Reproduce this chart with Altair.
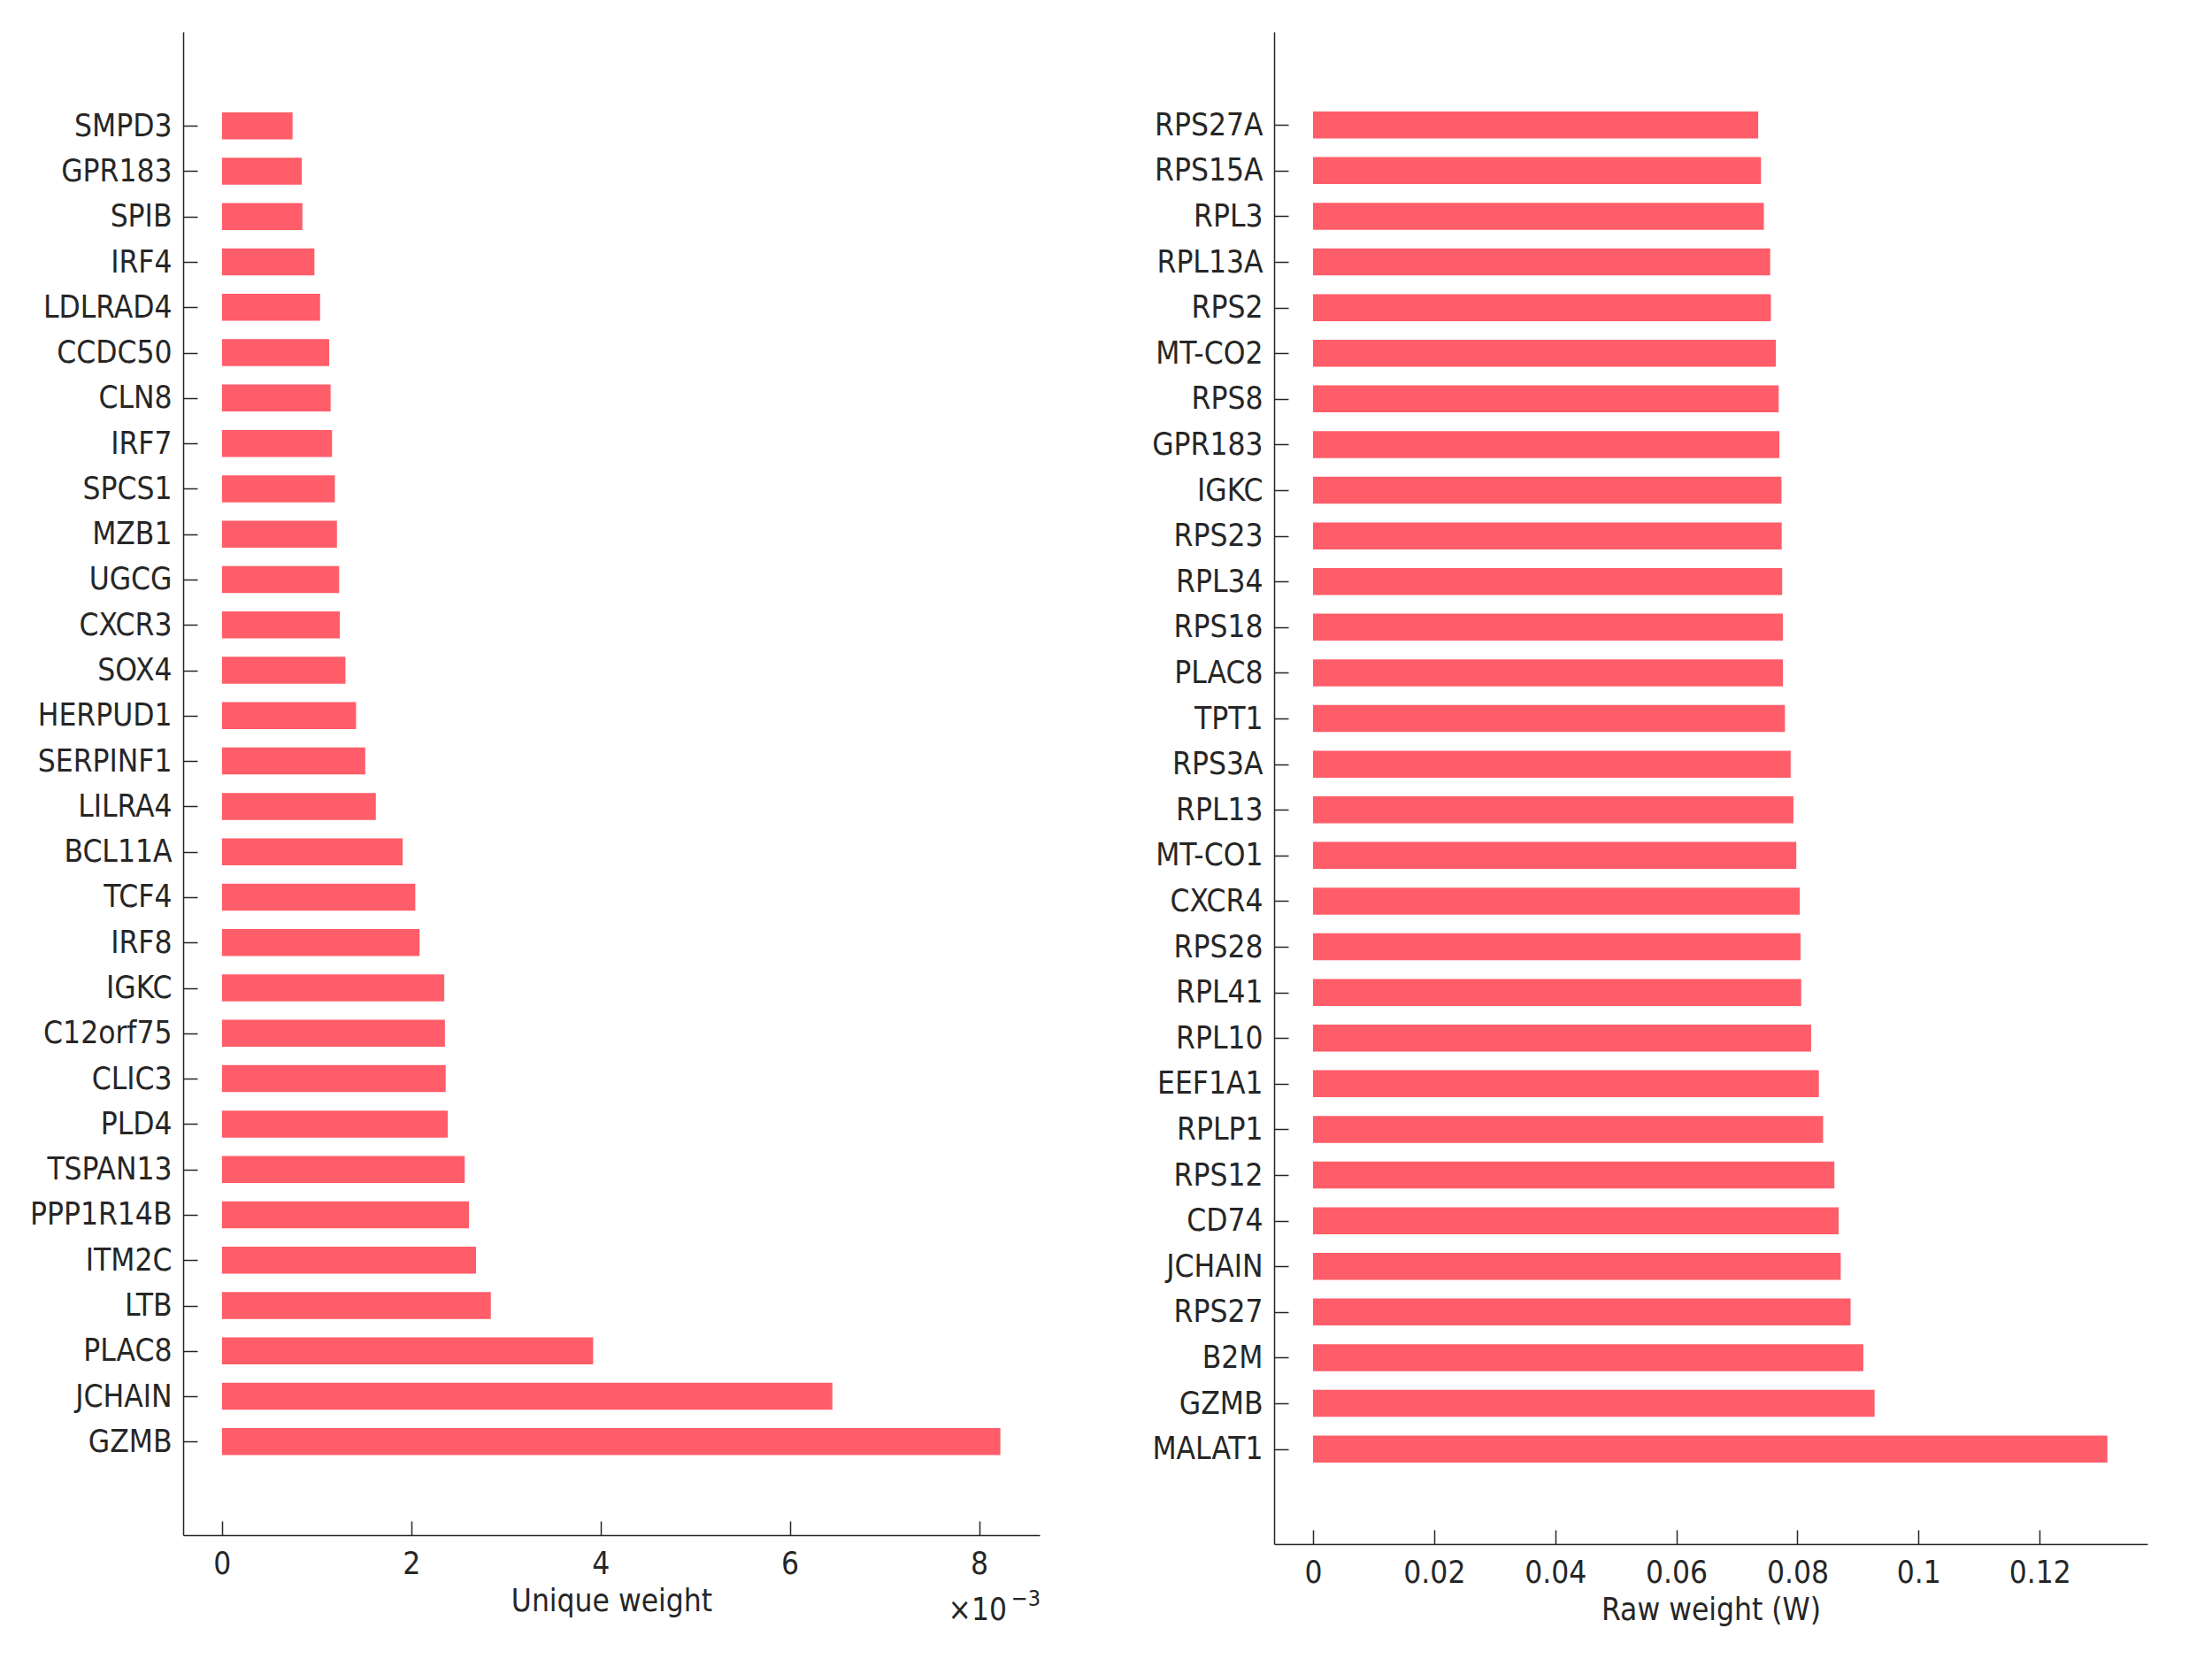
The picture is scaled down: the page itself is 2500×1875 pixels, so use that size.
import json
import altair as alt
import pandas as pd

# Left panel: unique weight (values in units of 1e-3)
left_genes = ["SMPD3", "GPR183", "SPIB", "IRF4", "LDLRAD4", "CCDC50", "CLN8", "IRF7",
              "SPCS1", "MZB1", "UGCG", "CXCR3", "SOX4", "HERPUD1", "SERPINF1", "LILRA4",
              "BCL11A", "TCF4", "IRF8", "IGKC", "C12orf75", "CLIC3", "PLD4", "TSPAN13",
              "PPP1R14B", "ITM2C", "LTB", "PLAC8", "JCHAIN", "GZMB"]
left_values = [0.746, 0.843, 0.850, 0.977, 1.037, 1.133, 1.148, 1.163,
               1.193, 1.215, 1.238, 1.245, 1.305, 1.417, 1.514, 1.626,
               1.909, 2.043, 2.088, 2.349, 2.356, 2.364, 2.386, 2.565,
               2.610, 2.685, 2.841, 3.922, 6.450, 8.225]
left_ticks = [0, 2, 4, 6, 8]

# Right panel: raw weight (W)
right_genes = ["RPS27A", "RPS15A", "RPL3", "RPL13A", "RPS2", "MT-CO2", "RPS8", "GPR183",
               "IGKC", "RPS23", "RPL34", "RPS18", "PLAC8", "TPT1", "RPS3A", "RPL13",
               "MT-CO1", "CXCR4", "RPS28", "RPL41", "RPL10", "EEF1A1", "RPLP1", "RPS12",
               "CD74", "JCHAIN", "RPS27", "B2M", "GZMB", "MALAT1"]
right_values = [0.07352, 0.07398, 0.07445, 0.07550, 0.07561, 0.07643, 0.07690, 0.07701,
                0.07736, 0.07740, 0.07748, 0.07759, 0.07760, 0.07794, 0.07888, 0.07934,
                0.07981, 0.08039, 0.08051, 0.08062, 0.08226, 0.08354, 0.08424, 0.08610,
                0.08680, 0.08715, 0.08878, 0.09088, 0.09274, 0.13119]
right_ticks = [0, 0.02, 0.04, 0.06, 0.08, 0.1, 0.12]

FONT = "DejaVu Sans Condensed, Liberation Sans Narrow, DejaVu Sans, sans-serif"
INK = "#262626"
BAR = "#ff5d69"
FS = 35


def panel(genes, values, xdomain, ticks, title, width, height, extent, ydomain):
    df = pd.DataFrame({"gene": genes, "value": values, "pos": list(range(len(genes)))})
    label_expr = json.dumps(genes) + "[datum.value]"
    bars = alt.Chart(df).mark_bar(color=BAR, height=30.5).encode(
        x=alt.X("value:Q",
                scale=alt.Scale(domain=xdomain, nice=False, zero=False, padding=0),
                axis=alt.Axis(values=ticks, format="~g", title=title,
                              tickSize={"expr": "-16"}, labelPadding=31,
                              titlePadding=7, grid=False, labelFlush=False,
                              labelOverlap=False)),
        x2=alt.datum(0),
        y=alt.Y("pos:Q",
                scale=alt.Scale(domain=ydomain, nice=False, zero=False, reverse=True,
                                padding=0),
                axis=alt.Axis(title=None, tickSize={"expr": "-16"}, labelPadding=29,
                              values=list(range(len(genes))), labelExpr=label_expr,
                              minExtent=extent, maxExtent=extent, labelFlush=False,
                              labelOverlap=False, grid=False)),
    )
    return bars.properties(width=width, height=height)


left = panel(left_genes, left_values, [-0.41, 8.64], left_ticks,
             "Unique weight", 968, 1699, 169, [-2.07, 31.06])

mult = alt.Chart(pd.DataFrame({"t": ["×10"]})).mark_text(
    align="right", baseline="alphabetic", fontSize=FS, font=FONT, color=INK
).encode(text="t:N", x=alt.value(931), y=alt.value(1795))
expo = alt.Chart(pd.DataFrame({"t": ["−3"]})).mark_text(
    align="left", baseline="alphabetic", fontSize=25, font=FONT, color=INK
).encode(text="t:N", x=alt.value(936), y=alt.value(1779))

left_layer = alt.layer(left, mult, expo).properties(width=968, height=1699)

right = panel(right_genes, right_values, [-0.00643, 0.1378], right_ticks,
              "Raw weight (W)", 987, 1709, 151, [-2.04, 31.08])

chart = alt.hconcat(left_layer, right, spacing=112).properties(
    padding={"left": 25, "top": 28, "right": 20, "bottom": 20},
    background="white",
).configure_view(strokeWidth=0).configure_axis(
    domainColor=INK, domainWidth=1.5, tickColor=INK, tickWidth=1.5,
    labelFont=FONT, labelFontSize=FS, labelColor=INK,
    titleFont=FONT, titleFontSize=FS, titleColor=INK, titleFontWeight="normal",
)

chart.save("out.html", embed_options={"renderer": "svg", "actions": False})
